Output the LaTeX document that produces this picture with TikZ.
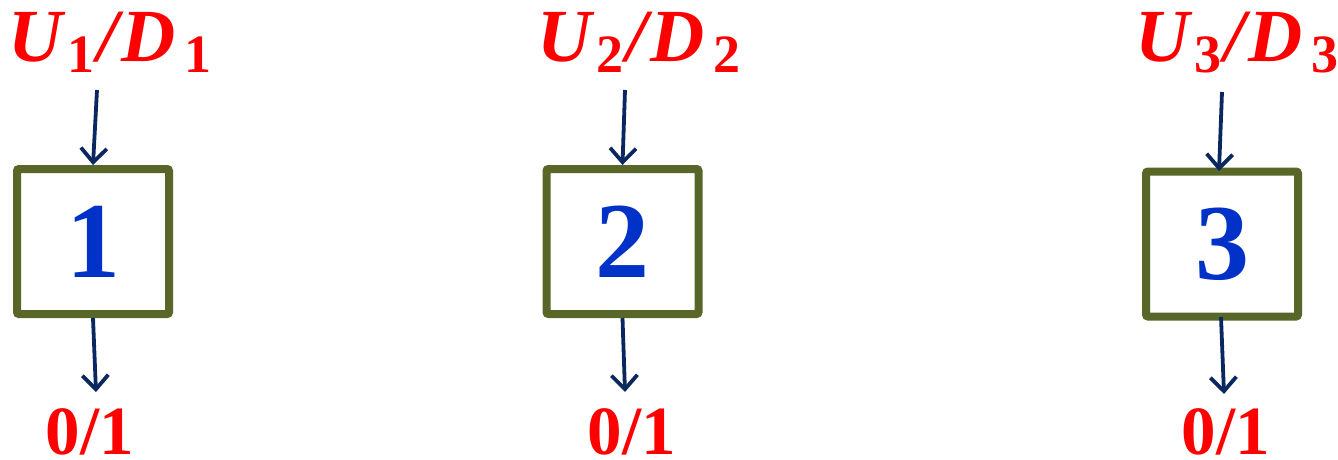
\documentclass[tikz,border=0pt]{standalone}
\usepackage{fontspec}
\newfontfamily\digitfont{Liberation Serif}
\usetikzlibrary{arrows.meta}
\definecolor{boxgreen}{RGB}{88,102,40}
\definecolor{arrowblue}{RGB}{10,40,95}
\definecolor{numblue}{RGB}{0,50,200}
\definecolor{labred}{RGB}{255,0,0}
\newcommand\subdig[1]{\raisebox{-11pt}{\fontsize{54}{54}\selectfont\upshape #1}}
\newcommand\udlabel[1]{\textit{U}\kern1pt\subdig{#1}\kern3pt\textit{/}\kern-2pt\textit{D}\kern8pt\subdig{#1}}
\tikzset{
  unitbox/.style={draw=boxgreen, line width=8pt, rounded corners=2pt, fill=white,
    minimum width=152pt, minimum height=145pt, inner sep=0pt,
    font=\digitfont\bfseries\fontsize{108}{108}\selectfont, text=numblue},
  inlabel/.style={text=labred, font=\digitfont\bfseries\fontsize{75}{75}\selectfont, inner sep=0pt, anchor=base},
  outlabel/.style={text=labred, font=\digitfont\bfseries\fontsize{69}{69}\selectfont, inner sep=0pt, anchor=base, text depth=0pt},
  flow/.style={draw=arrowblue, line width=3.8pt, -{Straight Barb[length=14pt,width=26pt,line width=3.8pt]}}
}
\begin{document}
\begin{tikzpicture}[x=1pt,y=-1pt]
\useasboundingbox (0,0) rectangle (1338,460);
% boxes
\node[unitbox] (b1) at (93,241.5) {1};
\node[unitbox] (b2) at (622.5,241.5) {2};
\node[unitbox] (b3) at (1222,244) {3};
% input labels
\node[inlabel] (u1) at (110,62) {\udlabel{1}};
\node[inlabel] (u2) at (639,62) {\udlabel{2}};
\node[inlabel] (u3) at (1237,62) {\udlabel{3}};
% output labels
\node[outlabel] (o1) at (90,454) {0/1};
\node[outlabel] (o2) at (632,454) {0/1};
\node[outlabel] (o3) at (1226,454) {0/1};
% arrow endpoints
\coordinate (t1) at (97,90);
\coordinate (t2) at (625,90);
\coordinate (t3) at (1222,92);
\coordinate (d1) at (96,392);
\coordinate (d2) at (625,392);
\coordinate (d3) at (1224,394);
\coordinate (e3) at (1219,171);
\coordinate (s3) at (1221,317);
% arrows
\draw[flow] (t1) -- (b1.north);
\draw[flow] (t2) -- (b2.north);
\draw[flow] (t3) -- (e3);
\draw[flow] (b1.south) -- (d1);
\draw[flow] (b2.south) -- (d2);
\draw[flow] (s3) -- (d3);
\end{tikzpicture}
\end{document}
